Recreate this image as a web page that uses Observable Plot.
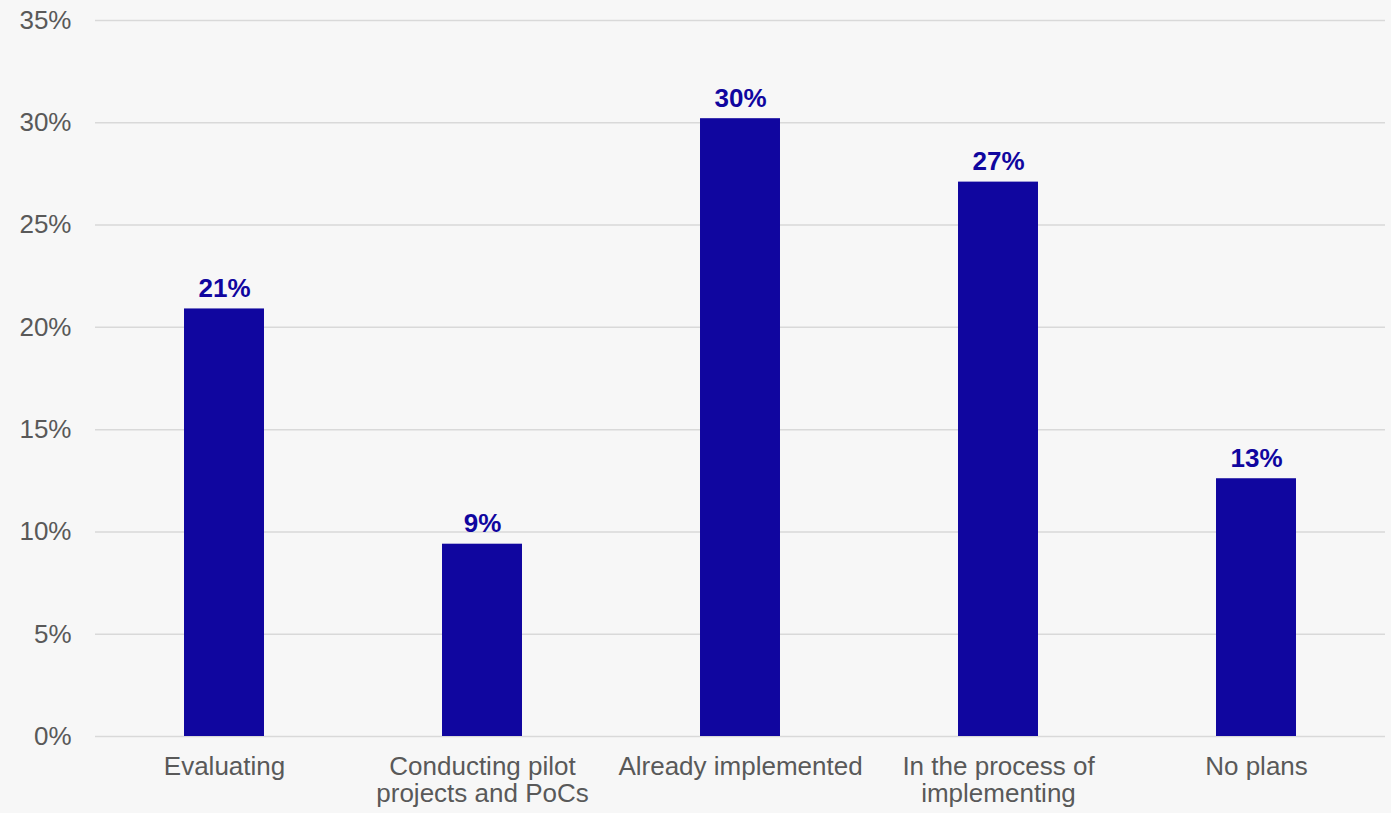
<!DOCTYPE html>
<html>
<head>
<meta charset="utf-8">
<script src="https://cdn.jsdelivr.net/npm/d3@7"></script>
<script src="https://cdn.jsdelivr.net/npm/@observablehq/plot@0.6"></script>
<style>
  html, body { margin: 0; padding: 0; background: #f7f7f7; }
  #chart svg { display: block; }
</style>
</head>
<body>
<div id="chart"></div>
<script>
const categories = ["Evaluating", "Conducting pilot projects and PoCs", "Already implemented", "In the process of implementing", "No plans"];
const tickLabels = ["Evaluating", "Conducting pilot\nprojects and PoCs", "Already implemented", "In the process of\nimplementing", "No plans"];
const values = [20.9, 9.4, 30.2, 27.1, 12.6];
const valueLabels = ["21%", "9%", "30%", "27%", "13%"];
const yTicks = [0, 5, 10, 15, 20, 25, 30, 35];

const data = categories.map((c, i) => ({category: c, value: values[i], label: valueLabels[i]}));
const labelOf = new Map(categories.map((c, i) => [c, tickLabels[i]]));

const chart = Plot.plot({
  width: 1391,
  height: 813,
  marginLeft: 95,
  marginRight: 6,
  marginTop: 20,
  marginBottom: 77,
  style: {background: "#f7f7f7", fontFamily: "'Liberation Sans', Arial, sans-serif", fontSize: "26px", color: "#595959"},
  x: {domain: categories, paddingInner: 0.69, paddingOuter: 0.345, round: false, label: null},
  y: {domain: [0, 35], label: null},
  marks: [
    Plot.gridY(yTicks, {stroke: "#d9d9d9", strokeOpacity: 1, strokeWidth: 1.5}),
    Plot.axisY(yTicks, {tickSize: 0, tickPadding: 24, tickFormat: d => d + "%", fill: "#595959", fontSize: 26, label: null}),
    Plot.axisX({tickSize: 0, tickPadding: 19, tickFormat: d => labelOf.get(d), lineHeight: 1.05, fill: "#595959", fontSize: 26, label: null}),
    Plot.barY(data, {x: "category", y: "value", fill: "#10069f"}),
    Plot.text(data, {x: "category", y: "value", text: "label", lineAnchor: "bottom", dy: -12, fill: "#10069f", fontWeight: "bold", fontSize: 26})
  ]
});
document.getElementById("chart").append(chart);
</script>
</body>
</html>
